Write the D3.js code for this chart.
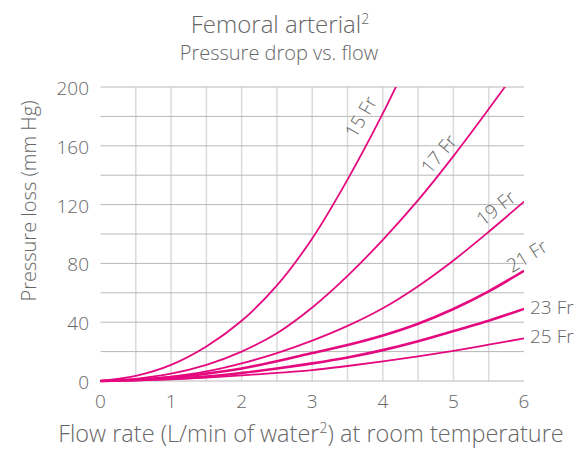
<!DOCTYPE html>
<html>
<head>
<meta charset="utf-8">
<script src="https://cdn.jsdelivr.net/npm/d3@7"></script>
<style>
  body { margin: 0; background: #fff; }
  text { font-family: "Open Sans", Lato, sans-serif; font-weight: 300; fill: #666; }
</style>
</head>
<body>
<script>
var width = 585;
var height = 450;

// flow rate (L/min), same x for every catheter size
var flow = [0, 0.5, 1, 1.5, 2, 2.5, 3, 3.5, 4, 4.5, 5, 5.5, 6];

// pressure loss (mm Hg)
var fr15 = [0, 3.5, 11, 23.5, 41, 65, 97, 137, 182, 232];
var fr17 = [0, 1.5, 5, 11, 20, 32.5, 50, 71.5, 96, 123, 153, 185, 218];
var fr19 = [0, 1, 3, 6.5, 12, 19, 27.5, 37.5, 49.5, 64.5, 82, 101.5, 122];
var fr21 = [0, 0.8, 2.5, 5, 8.5, 13.5, 19, 24.5, 31, 39, 49, 61, 75];
var fr23 = [0, 0.5, 1.5, 3, 5.5, 8.5, 12, 16, 21, 27, 34, 41, 49];
var fr25 = [0, 0.4, 1.2, 2.3, 3.8, 5.5, 7.4, 10.2, 13.3, 16.7, 20.5, 24.7, 29];

var seriesNames = ['15 Fr', '17 Fr', '19 Fr', '21 Fr', '23 Fr', '25 Fr'];
var seriesValues = [fr15, fr17, fr19, fr21, fr23, fr25];

var xTicks = [0, 1, 2, 3, 4, 5, 6];
var xGrid = [0.5, 1, 1.5, 2, 2.5, 3, 3.5, 4, 4.5, 5, 5.5];
var yTicks = [0, 40, 80, 120, 160, 200];
var yGrid = [20, 40, 60, 80, 100, 120, 140, 160, 180, 200];

var svg = d3.select('body').append('svg')
    .attr('width', width)
    .attr('height', height);

var x = d3.scaleLinear().domain([0, 6]).range([100.5, 524]);
var y = d3.scaleLinear().domain([0, 200]).range([381, 87]);

// grid
svg.selectAll('.vgrid')
    .data(xGrid)
    .enter()
    .append('line')
    .attr('x1', function (d) { return x(d); })
    .attr('x2', function (d) { return x(d); })
    .attr('y1', y(200))
    .attr('y2', y(0))
    .style('stroke', '#dadada')
    .style('stroke-width', 1.5);

svg.selectAll('.hgrid')
    .data(yGrid)
    .enter()
    .append('line')
    .attr('x1', x(0))
    .attr('x2', x(6))
    .attr('y1', function (d) { return y(d); })
    .attr('y2', function (d) { return y(d); })
    .style('stroke', '#b8b8b8')
    .style('stroke-width', 1);

svg.append('line')
    .attr('x1', x(0)).attr('x2', x(6))
    .attr('y1', y(0)).attr('y2', y(0))
    .style('stroke', '#b8b8b8')
    .style('stroke-width', 1);

// tick labels
svg.selectAll('.ylab')
    .data(yTicks)
    .enter()
    .append('text')
    .attr('x', 89)
    .attr('y', function (d) { return y(d) + 8; })
    .attr('text-anchor', 'end')
    .style('font-size', '19px')
    .text(function (d) { return d; });

svg.selectAll('.xlab')
    .data(xTicks)
    .enter()
    .append('text')
    .attr('x', function (d) { return x(d); })
    .attr('y', 408)
    .attr('text-anchor', 'middle')
    .style('font-size', '19px')
    .text(function (d) { return d; });

// curves
svg.append('clipPath').attr('id', 'plot')
    .append('rect')
    .attr('x', x(0) - 2).attr('y', y(200))
    .attr('width', x(6) - x(0) + 2).attr('height', y(0) - y(200) + 3);

var line = d3.line()
    .x(function (d, i) { return x(flow[i]); })
    .y(function (d) { return y(d); })
    .curve(d3.curveCatmullRom.alpha(0.5));

var widths = [1.8, 1.8, 1.8, 2.6, 2.6, 1.8];

svg.append('g')
    .attr('clip-path', 'url(#plot)')
    .selectAll('path')
    .data(seriesValues)
    .enter()
    .append('path')
    .attr('d', line)
    .style('fill', 'none')
    .style('stroke', '#e5097f')
    .style('stroke-width', function (d, i) { return widths[i]; });

// series labels
var labelPos = [
    [361, 117, -60, 'middle'],
    [439, 154, -50, 'middle'],
    [496, 208, -38, 'middle'],
    [527, 256, -32, 'middle'],
    [530, 314, 0, 'start'],
    [530, 343, 0, 'start']
];

svg.selectAll('.slab')
    .data(seriesNames)
    .enter()
    .append('text')
    .attr('transform', function (d, i) {
        var p = labelPos[i];
        return 'translate(' + p[0] + ',' + p[1] + ') rotate(' + p[2] + ')';
    })
    .attr('dy', function (d, i) { return labelPos[i][2] === 0 ? 0 : '0.35em'; })
    .attr('text-anchor', function (d, i) { return labelPos[i][3]; })
    .style('font-size', '19px')
    .text(function (d) { return d; });

// titles
var title = svg.append('text')
    .attr('x', 280)
    .attr('y', 33)
    .attr('text-anchor', 'middle')
    .style('font-size', '24px');
title.append('tspan').text('Femoral arterial');
title.append('tspan').attr('dy', -9).style('font-size', '14px').text('2');

svg.append('text')
    .attr('x', 279)
    .attr('y', 60)
    .attr('text-anchor', 'middle')
    .style('font-size', '20px')
    .text('Pressure drop vs. flow');

var xTitle = svg.append('text')
    .attr('x', 311)
    .attr('y', 442)
    .attr('text-anchor', 'middle')
    .style('font-size', '23.5px');
xTitle.append('tspan').text('Flow rate (L/min of water');
xTitle.append('tspan').attr('dy', -9).style('font-size', '14px').text('2');
xTitle.append('tspan').attr('dy', 9).text(') at room temperature');

svg.append('text')
    .attr('transform', 'translate(36,201) rotate(-90)')
    .attr('text-anchor', 'middle')
    .style('font-size', '20px')
    .text('Pressure loss (mm Hg)');
</script>
</body>
</html>
